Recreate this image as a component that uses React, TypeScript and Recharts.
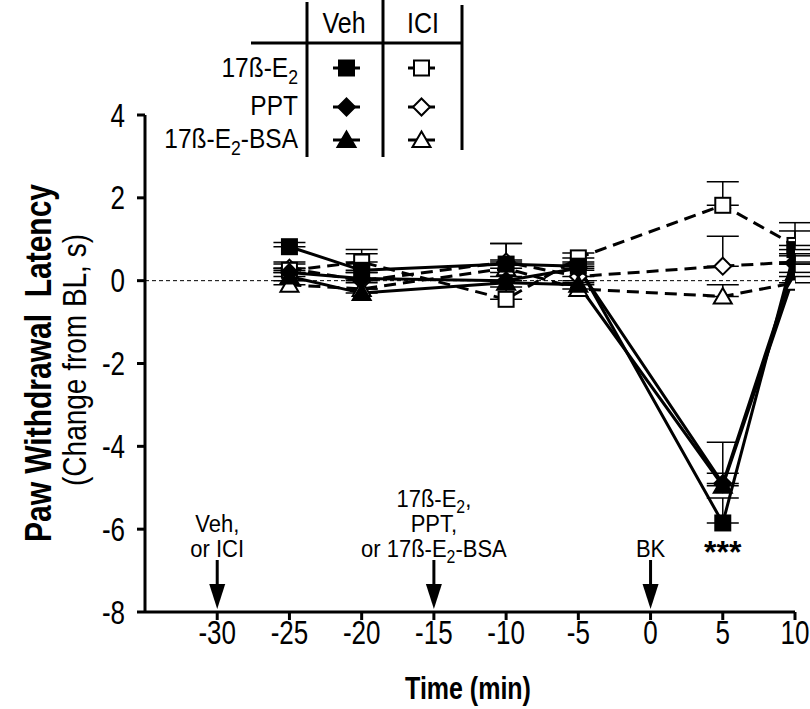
import React from 'react';
import { ComposedChart, Line, XAxis, YAxis, ErrorBar, ReferenceLine, Scatter } from 'recharts';

const FONT = "'Liberation Sans', Arial, sans-serif";

const times = [-25, -20, -10, -5, 5, 10];
const vehE2 = [0.82, 0.25, 0.4, 0.35, -5.85, 0.75];
const vehE2Err = [0.1, 0.4, 0.5, 0.1, 0.6, 0.65];
const vehPPT = [0.2, 0.05, 0.0, 0.3, -4.9, 0.4];
const vehPPTErr = [0.1, 0.15, 0.2, 0.1, 1.0, 0.2];
const vehBSA = [0.1, -0.3, -0.05, -0.1, -4.95, 0.2];
const vehBSAErr = [0.1, 0.1, 0.15, 0.1, 0.3, 0.2];
const iciE2 = [0.25, 0.45, -0.45, 0.55, 1.82, 0.85];
const iciE2Err = [0.2, 0.3, 0.3, 0.12, 0.57, 0.35];
const iciPPT = [0.3, 0.0, 0.45, 0.1, 0.35, 0.45];
const iciPPTErr = [0.1, 0.2, 0.45, 0.15, 0.72, 0.2];
const iciBSA = [-0.1, -0.2, 0.3, -0.2, -0.38, -0.05];
const iciBSAErr = [0.1, 0.15, 0.2, 0.15, 0.28, 0.15];

const xTicks = [-30, -25, -20, -15, -10, -5, 0, 5, 10];
const yTicks = [-8, -6, -4, -2, 0, 2, 4];

const rows = times.map((t, i) => ({
  t,
  vehE2: vehE2[i], vehE2Err: [0, vehE2Err[i]],
  vehPPT: vehPPT[i], vehPPTErr: [0, vehPPTErr[i]],
  vehBSA: vehBSA[i], vehBSAErr: [0, vehBSAErr[i]],
  iciE2: iciE2[i], iciE2Err: [0, iciE2Err[i]],
  iciPPT: iciPPT[i], iciPPTErr: [0, iciPPTErr[i]],
  iciBSA: iciBSA[i], iciBSAErr: [0, iciBSAErr[i]],
}));

const arrowTimes = [-30, -15, 0];
const arrowLabels = [
  [[['Veh,']], [['or ICI']]],
  [[['17ß-E'], ['2', 'sub'], [',']], [['PPT,']], [['or 17ß-E'], ['2', 'sub'], ['-BSA']]],
  [[['BK']]],
];
const arrowData = arrowTimes.map((t, i) => ({ t, y: -8, lines: arrowLabels[i] }));
const starData = [{ t: 5, y: vehE2[4], label: '***' }];

type Shape = 'square' | 'diamond' | 'triangle';

function Marker({ cx, cy, shape, filled }: { cx: number; cy: number; shape: Shape; filled: boolean }) {
  const fill = filled ? '#000' : '#fff';
  const sw = 2;
  if (shape === 'square') {
    return <rect x={cx - 7.5} y={cy - 7.5} width={15} height={15} fill={fill} stroke="#000" strokeWidth={sw} />;
  }
  if (shape === 'diamond') {
    return <polygon points={`${cx},${cy - 8.5} ${cx + 8.5},${cy} ${cx},${cy + 8.5} ${cx - 8.5},${cy}`} fill={fill} stroke="#000" strokeWidth={sw} />;
  }
  return <polygon points={`${cx},${cy - 8.5} ${cx + 9},${cy + 7} ${cx - 9},${cy + 7}`} fill={fill} stroke="#000" strokeWidth={sw} />;
}

const dotFn = (shape: Shape, filled: boolean) => (props: any) => {
  const { cx, cy, index } = props;
  if (cx == null || cy == null) return <g key={`n${index}`} />;
  return <Marker key={`${shape}${filled}${index}`} cx={cx} cy={cy} shape={shape} filled={filled} />;
};

function RichText({ x, y, parts, size, anchor = 'middle', weight = 'normal', stretch = 1.2 }: any) {
  return (
    <g transform={`translate(${x},${y}) scale(1,${stretch})`}>
      <text x={0} y={0} textAnchor={anchor} fontFamily={FONT} fontSize={size} fontWeight={weight} fill="#000">
        {parts.map((p: any, i: number) =>
          p[1] === 'sub' ? (
            <tspan key={i} fontSize={size * 0.72} dy={size * 0.25}>{p[0]}</tspan>
          ) : (
            <tspan key={i} dy={i > 0 && parts[i - 1][1] === 'sub' ? -size * 0.25 : 0}>{p[0]}</tspan>
          )
        )}
      </text>
    </g>
  );
}

const ArrowShape = (props: any) => {
  const { cx, cy, payload } = props;
  if (cx == null) return <g />;
  const lines = payload.lines as any[];
  const n = lines.length;
  return (
    <g>
      <line x1={cx} y1={cy - 52} x2={cx} y2={cy - 24} stroke="#000" strokeWidth={3} />
      <polygon points={`${cx - 8},${cy - 28} ${cx + 8},${cy - 28} ${cx},${cy - 3}`} fill="#000" />
      {lines.map((parts, i) => (
        <RichText key={i} x={cx} y={cy - 55 - (n - 1 - i) * 25} parts={parts} size={22} stretch={1.1} />
      ))}
    </g>
  );
};

const StarShape = (props: any) => {
  const { cx, cy, payload } = props;
  if (cx == null) return <g />;
  return (
    <text x={cx} y={cy + 40} textAnchor="middle" fontFamily={FONT} fontSize={32} fontWeight="bold">{payload.label}</text>
  );
};

const XTick = (props: any) => {
  const { x, y, payload } = props;
  return (
    <g transform={`translate(${x},${y + 22}) scale(1,1.25)`}>
      <text x={0} y={0} textAnchor="middle" fontFamily={FONT} fontSize={26} fill="#000">{payload.value}</text>
    </g>
  );
};
const YTick = (props: any) => {
  const { x, y, payload } = props;
  return (
    <g transform={`translate(${x},${y + 11.5}) scale(1,1.25)`}>
      <text x={0} y={0} textAnchor="end" fontFamily={FONT} fontSize={26} fill="#000">{payload.value}</text>
    </g>
  );
};

const legendRows = [
  { label: [['17ß-E'], ['2', 'sub']], shape: 'square' as Shape, y: 68, base: 77 },
  { label: [['PPT']], shape: 'diamond' as Shape, y: 107, base: 115 },
  { label: [['17ß-E'], ['2', 'sub'], ['-BSA']], shape: 'triangle' as Shape, y: 140, base: 148 },
];

function Overlay() {
  return (
    <svg width={810} height={709} style={{ position: 'absolute', left: 0, top: 0, pointerEvents: 'none' }}>
      <line x1={307} y1={2} x2={307} y2={157} stroke="#000" strokeWidth={3} />
      <line x1={383} y1={0} x2={383} y2={157} stroke="#000" strokeWidth={3} />
      <line x1={462} y1={5} x2={462} y2={150} stroke="#000" strokeWidth={3} />
      <line x1={251} y1={43} x2={462} y2={43} stroke="#000" strokeWidth={3} />
      <RichText x={344} y={33} parts={[['Veh']]} size={25} stretch={1.15} />
      <RichText x={423} y={33} parts={[['ICI']]} size={25} stretch={1.15} />
      {legendRows.map((r, i) => (
        <g key={i}>
          <RichText x={298} y={r.base} parts={r.label} size={24.5} anchor="end" stretch={1.15} />
          <line x1={333} y1={r.y} x2={360} y2={r.y} stroke="#000" strokeWidth={3} />
          <Marker cx={346.5} cy={r.y} shape={r.shape} filled={true} />
          <line x1={408} y1={r.y} x2={435} y2={r.y} stroke="#000" strokeWidth={3} />
          <Marker cx={421.5} cy={r.y} shape={r.shape} filled={false} />
        </g>
      ))}
      <g transform="translate(51,363) rotate(-90) scale(1,1.2)">
        <text x={0} y={0} textAnchor="middle" fontFamily={FONT} fontSize={30} fontWeight="bold" style={{ whiteSpace: 'pre' }}>Paw Withdrawal  Latency</text>
      </g>
      <g transform="translate(86,360) rotate(-90) scale(1,1.2)">
        <text x={0} y={0} textAnchor="middle" fontFamily={FONT} fontSize={28}>(Change from BL, s)</text>
      </g>
      <g transform="translate(468,699) scale(1,1.25)">
        <text x={0} y={0} textAnchor="middle" fontFamily={FONT} fontSize={25} fontWeight="bold">Time (min)</text>
      </g>
    </svg>
  );
}

export default function App() {
  return (
    <div style={{ position: 'absolute', left: 0, top: 0, width: 810, height: 709, background: '#fff' }}>
      <ComposedChart width={810} height={709} data={rows} margin={{ top: 115, right: 15, bottom: 0, left: 0 }}>
        <XAxis
          dataKey="t"
          type="number"
          domain={[-35, 10]}
          ticks={xTicks}
          interval={0}
          axisLine={{ stroke: '#000', strokeWidth: 3 }}
          tickLine={{ stroke: '#000', strokeWidth: 3 }}
          tickSize={8}
          tickMargin={2}
          height={97}
          tick={<XTick />}
          allowDataOverflow
        />
        <YAxis
          type="number"
          domain={[-8, 4]}
          ticks={yTicks}
          interval={0}
          axisLine={{ stroke: '#000', strokeWidth: 3 }}
          tickLine={{ stroke: '#000', strokeWidth: 3 }}
          tickSize={8}
          tickMargin={12}
          width={145}
          tick={<YTick />}
          allowDataOverflow
        />
        <ReferenceLine y={0} stroke="#000" strokeWidth={1} strokeDasharray="4 3" />
        <Line dataKey="iciBSA" stroke="#000" strokeWidth={3} strokeDasharray="12 7" dot={dotFn('triangle', false)} activeDot={false} isAnimationActive={false} type="linear">
          <ErrorBar dataKey="iciBSAErr" direction="y" width={16} stroke="#000" strokeWidth={1.5} />
        </Line>
        <Line dataKey="iciPPT" stroke="#000" strokeWidth={3} strokeDasharray="12 7" dot={dotFn('diamond', false)} activeDot={false} isAnimationActive={false} type="linear">
          <ErrorBar dataKey="iciPPTErr" direction="y" width={16} stroke="#000" strokeWidth={1.5} />
        </Line>
        <Line dataKey="iciE2" stroke="#000" strokeWidth={3} strokeDasharray="12 7" dot={dotFn('square', false)} activeDot={false} isAnimationActive={false} type="linear">
          <ErrorBar dataKey="iciE2Err" direction="y" width={16} stroke="#000" strokeWidth={1.5} />
        </Line>
        <Line dataKey="vehBSA" stroke="#000" strokeWidth={3} dot={dotFn('triangle', true)} activeDot={false} isAnimationActive={false} type="linear">
          <ErrorBar dataKey="vehBSAErr" direction="y" width={16} stroke="#000" strokeWidth={1.5} />
        </Line>
        <Line dataKey="vehPPT" stroke="#000" strokeWidth={3} dot={dotFn('diamond', true)} activeDot={false} isAnimationActive={false} type="linear">
          <ErrorBar dataKey="vehPPTErr" direction="y" width={16} stroke="#000" strokeWidth={1.5} />
        </Line>
        <Line dataKey="vehE2" stroke="#000" strokeWidth={3} dot={dotFn('square', true)} activeDot={false} isAnimationActive={false} type="linear">
          <ErrorBar dataKey="vehE2Err" direction="y" width={16} stroke="#000" strokeWidth={1.5} />
        </Line>
        <Scatter data={arrowData} dataKey="y" shape={<ArrowShape />} isAnimationActive={false} />
        <Scatter data={starData} dataKey="y" shape={<StarShape />} isAnimationActive={false} />
      </ComposedChart>
      <Overlay />
    </div>
  );
}
